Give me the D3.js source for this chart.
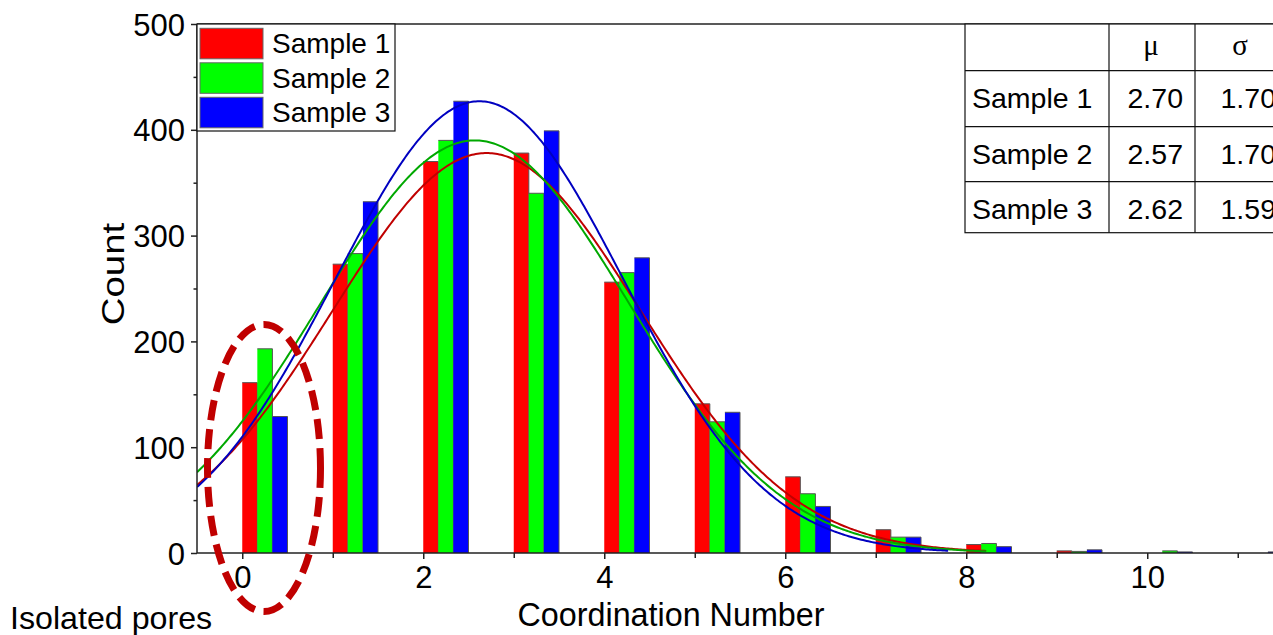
<!DOCTYPE html>
<html>
<head>
<meta charset="utf-8">
<script src="https://cdn.jsdelivr.net/npm/d3@7/dist/d3.min.js"></script>
<style>
  html, body { margin: 0; padding: 0; background: #fff; overflow: hidden; }
  svg { display: block; }
  text { font-family: "Liberation Sans", Arial, sans-serif; fill: #000; }
</style>
</head>
<body>
<svg id="chart" width="1273" height="635"></svg>
<script>
// Coordination number histogram for three samples, with Gaussian fits
const categories = [0, 1, 2, 3, 4, 5, 6, 7, 8, 9, 10, 11];
const seriesNames = ["Sample 1", "Sample 2", "Sample 3"];
const sample1 = [161, 273, 370, 378, 256, 141, 72, 22, 8, 2, 0, 0];
const sample2 = [193, 283, 390, 340, 265, 124, 56, 15, 9, 1.5, 2, 0];
const sample3 = [129, 332, 427, 399, 279, 133, 44, 15, 6, 3, 1, 1];
const seriesValues = [sample1, sample2, sample3];

// Gaussian fit parameters (table) and fitted peak heights
const fitMu = [2.70, 2.57, 2.62];
const fitSigma = [1.70, 1.70, 1.59];
const fitPeak = [378, 390, 427];
const fitEnd = [8.23, 8.23, 7.8];
const fitStart = -0.5;

const yTicks = [0, 100, 200, 300, 400, 500];
const xTickLabels = [0, 2, 4, 6, 8, 10];

const barColors = ["#ff0000", "#00ff00", "#0000ff"];
const fitColors = ["#c00000", "#00a800", "#0000c0"];

const svg = d3.select("#chart");
const W = 1273, H = 635;

const x = d3.scaleLinear().domain([-0.5, 11.9]).range([197, 1319.2]);
const y = d3.scaleLinear().domain([0, 500]).range([553, 24]);

svg.append("defs").append("clipPath").attr("id", "plot-clip")
  .append("rect").attr("x", 197).attr("y", 24).attr("width", 1200).attr("height", 529);

// Bars
const barW = 1 / 6;
const bars = svg.append("g");
seriesValues.forEach((vals, i) => {
  const g = bars.append("g");
  vals.forEach((v, k) => {
    if (v <= 0) return;
    const x0 = x(categories[k] + i * barW), x1 = x(categories[k] + (i + 1) * barW);
    g.append("rect")
      .attr("x", x0).attr("y", y(v))
      .attr("width", x1 - x0).attr("height", y(0) - y(v))
      .attr("fill", barColors[i]);
    g.append("path")
      .attr("d", `M${x0},${y(v)}H${x1}V${y(0)}`)
      .attr("fill", "none").attr("stroke", "#555").attr("stroke-width", 1);
  });
});

// Gaussian fit curves
const fits = svg.append("g").attr("clip-path", "url(#plot-clip)");
fitMu.forEach((mu, i) => {
  const s = fitSigma[i], A = fitPeak[i];
  const xs = d3.range(fitStart, fitEnd[i] + 1e-9, 0.02);
  const line = d3.line()
    .x(d => x(d))
    .y(d => y(A * Math.exp(-((d - mu) ** 2) / (2 * s * s))));
  fits.append("path").datum(xs)
    .attr("d", line)
    .attr("fill", "none")
    .attr("stroke", fitColors[i])
    .attr("stroke-width", 2);
});

// Axes
const axisColor = "#222";
const xAxis = d3.axisBottom(x)
  .tickValues(d3.range(0, 12))
  .tickSize(6)
  .tickFormat(d => xTickLabels.includes(d) ? d : "");
const gx = svg.append("g").attr("transform", `translate(0,${y(0)})`).call(xAxis);
gx.select(".domain").remove();
gx.selectAll(".tick line").attr("stroke", axisColor).attr("stroke-width", 1.5)
  .attr("y2", d => d % 2 === 0 ? 6 : 5);
gx.selectAll(".tick text")
  .attr("y", 35).attr("dy", 0)
  .style("font-size", "31px").style("font-family", "Liberation Sans, Arial, sans-serif")
  .attr("fill", "#000");
svg.append("line").attr("x1", 197).attr("x2", W).attr("y1", y(0)).attr("y2", y(0))
  .attr("stroke", axisColor).attr("stroke-width", 1.5);

const yAxis = d3.axisLeft(y)
  .tickValues(d3.range(0, 501, 50))
  .tickSize(6)
  .tickFormat(d => yTicks.includes(d) ? d : "");
const gy = svg.append("g").attr("transform", `translate(197,0)`).call(yAxis);
gy.select(".domain").remove();
gy.selectAll(".tick line").attr("stroke", axisColor).attr("stroke-width", 1.5)
  .attr("x2", d => d % 100 === 0 ? -6 : -3.5);
gy.selectAll(".tick text")
  .attr("x", -12).attr("dy", "0.36em")
  .style("font-size", "31px").style("font-family", "Liberation Sans, Arial, sans-serif")
  .attr("fill", "#000");
svg.append("line").attr("x1", 197).attr("x2", 197).attr("y1", 24).attr("y2", y(0))
  .attr("stroke", axisColor).attr("stroke-width", 1.5);
// top frame
svg.append("line").attr("x1", 197).attr("x2", W).attr("y1", 24).attr("y2", 24)
  .attr("stroke", axisColor).attr("stroke-width", 1.5);

// Axis titles
svg.append("text").attr("x", 671).attr("y", 626).attr("text-anchor", "middle")
  .style("font-size", "32.3px").text("Coordination Number");
svg.append("text").attr("transform", "translate(124,274) scale(1,1.2) rotate(-90)")
  .attr("text-anchor", "middle").style("font-size", "32px").text("Count");
svg.append("text").attr("x", 10).attr("y", 629)
  .style("font-size", "32.2px").text("Isolated pores");

// Legend
const lg = svg.append("g");
lg.append("rect").attr("x", 197).attr("y", 24).attr("width", 198).attr("height", 107)
  .attr("fill", "#fff").attr("stroke", "#111").attr("stroke-width", 1.2);
seriesNames.forEach((name, i) => {
  const top = 28.3 + i * 34.5;
  lg.append("rect").attr("x", 200).attr("y", top).attr("width", 63).attr("height", 30.5)
    .attr("fill", barColors[i]).attr("stroke", "#666").attr("stroke-width", 1);
  lg.append("text").attr("x", 272).attr("y", top + 25)
    .style("font-size", "28px").text(name);
});

// Parameter table
const tCols = [965, 1109, 1195, 1288];
const tRows = [24, 70.7, 126.7, 181.7, 232.7];
const tg = svg.append("g");
tg.append("rect").attr("x", tCols[0]).attr("y", tRows[0])
  .attr("width", tCols[3] - tCols[0]).attr("height", tRows[4] - tRows[0])
  .attr("fill", "#fff").attr("stroke", "#111").attr("stroke-width", 1.2);
tRows.slice(1, 4).forEach(r => tg.append("line").attr("x1", tCols[0]).attr("x2", tCols[3])
  .attr("y1", r).attr("y2", r).attr("stroke", "#111").attr("stroke-width", 1.2));
tCols.slice(1, 3).forEach(c => tg.append("line").attr("x1", c).attr("x2", c)
  .attr("y1", tRows[0]).attr("y2", tRows[4]).attr("stroke", "#111").attr("stroke-width", 1.2));
const greekStyle = "Liberation Serif, Times New Roman, serif";
tg.append("text").attr("x", 1151).attr("y", 55).attr("text-anchor", "middle")
  .style("font-family", greekStyle).style("font-size", "29px").text("μ");
tg.append("text").attr("x", 1240).attr("y", 55).attr("text-anchor", "middle")
  .style("font-family", greekStyle).style("font-size", "29px").text("σ");
seriesNames.forEach((name, i) => {
  const base = tRows[i + 1] + 37;
  tg.append("text").attr("x", 972).attr("y", base).style("font-size", "28.5px").text(name);
  tg.append("text").attr("x", tCols[2] - 12).attr("y", base).attr("text-anchor", "end")
    .style("font-size", "28.5px").text(fitMu[i].toFixed(2));
  tg.append("text").attr("x", tCols[3] - 12).attr("y", base).attr("text-anchor", "end")
    .style("font-size", "28.5px").text(fitSigma[i].toFixed(2));
});

// Dashed ellipse marking isolated pores
svg.append("ellipse").attr("cx", 264).attr("cy", 468).attr("rx", 56.5).attr("ry", 143.5)
  .attr("fill", "none").attr("stroke", "#c00000").attr("stroke-width", 7)
  .attr("stroke-dasharray", "20,9");
</script>
</body>
</html>
